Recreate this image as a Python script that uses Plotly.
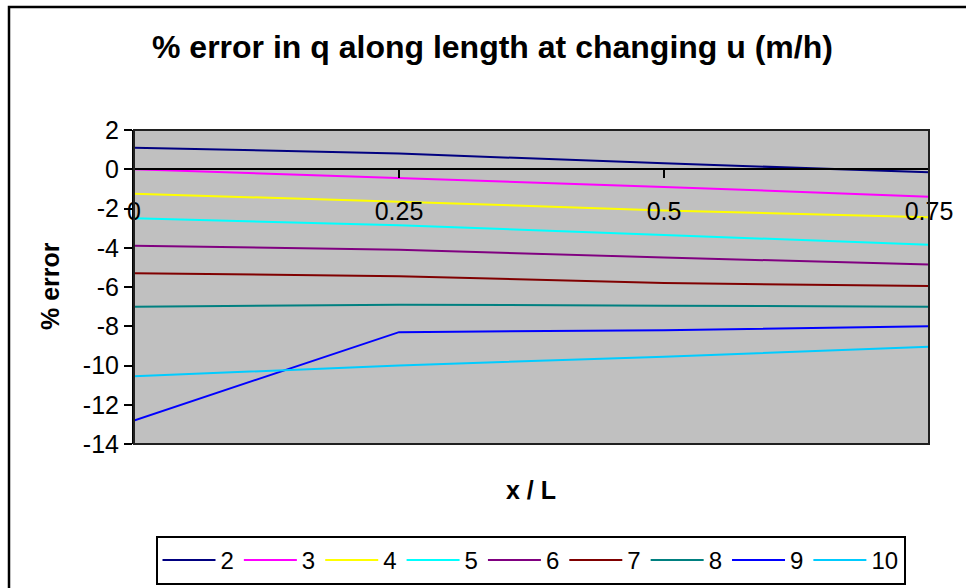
import plotly.graph_objects as go

x_vals = [0, 0.25, 0.5, 0.75]
series_names = ["2", "3", "4", "5", "6", "7", "8", "9", "10"]
s2 = [1.1, 0.8, 0.3, -0.15]
s3 = [0.0, -0.45, -0.9, -1.4]
s4 = [-1.25, -1.65, -2.1, -2.45]
s5 = [-2.5, -2.85, -3.35, -3.85]
s6 = [-3.9, -4.1, -4.5, -4.85]
s7 = [-5.3, -5.45, -5.8, -5.95]
s8 = [-7.0, -6.9, -6.95, -7.0]
s9 = [-12.8, -8.3, -8.2, -8.0]
s10 = [-10.55, -10.0, -9.55, -9.05]
series_values = [s2, s3, s4, s5, s6, s7, s8, s9, s10]
colors = ["#000080", "#FF00FF", "#FFFF00", "#00FFFF", "#800080",
          "#800000", "#008080", "#0000FF", "#00CCFF"]
x_ticks = [0, 0.25, 0.5, 0.75]
x_tick_labels = ["0", "0.25", "0.5", "0.75"]
y_ticks = [2, 0, -2, -4, -6, -8, -10, -12, -14]
y_tick_labels = ["2", "0", "-2", "-4", "-6", "-8", "-10", "-12", "-14"]

FONT = "Liberation Sans, Arial, sans-serif"

fig = go.Figure()
for name, vals, col in zip(series_names, series_values, colors):
    fig.add_trace(go.Scatter(x=x_vals, y=vals, mode="lines", name=name,
                             line=dict(color=col, width=2)))

W, H = 966, 588
L, R, T, B = 134, 37, 130, 144
pw, ph = W - L - R, H - T - B

def px(xp):
    return (xp - L) / pw

def py(yp):
    return (H - B - yp) / ph

zero_pos = (0 - (-14)) / 16.0

fig.update_layout(
    width=W, height=H,
    margin=dict(l=L, r=R, t=T, b=B, autoexpand=False),
    paper_bgcolor="white",
    plot_bgcolor="#C0C0C0",
    font=dict(family=FONT, color="black", size=24),
    showlegend=True,
    legend=dict(orientation="h", x=530.5 / W, xanchor="center", xref="container",
                yref="container", y=1 - 536 / H, yanchor="top",
                bordercolor="black", borderwidth=2, bgcolor="white",
                font=dict(size=24, family=FONT), itemwidth=53, tracegroupgap=0),
    annotations=[
        dict(text="<b>% error in q along length at changing u (m/h)</b>", xref="paper", yref="paper",
             x=px(492), y=py(47), showarrow=False, font=dict(size=32, family=FONT),
             xanchor="center", yanchor="middle"),
        dict(text="<b>x / L</b>", xref="paper", yref="paper",
             x=px(531), y=py(490), showarrow=False, font=dict(size=25, family=FONT),
             xanchor="center", yanchor="middle"),
        dict(text="<b>% error</b>", xref="paper", yref="paper",
             x=px(50), y=py(286), showarrow=False, font=dict(size=25, family=FONT),
             textangle=-90, xanchor="center", yanchor="middle"),
    ],
    shapes=[
        dict(type="rect", xref="paper", yref="paper", x0=px(9), x1=px(975), y0=py(7), y1=py(600),
             line=dict(color="black", width=2.5), fillcolor="rgba(0,0,0,0)", layer="below"),
        dict(type="rect", xref="paper", yref="paper", x0=0, x1=1, y0=0, y1=1,
             line=dict(color="#202020", width=2), fillcolor="rgba(0,0,0,0)", layer="above"),
    ],
)

fig.update_xaxes(range=[0, 0.75], tickvals=x_ticks, ticktext=x_tick_labels,
                 showgrid=False, zeroline=False, showline=True, linecolor="black", linewidth=1.5,
                 ticks="outside", ticklen=8, tickcolor="black", tickwidth=1.5,
                 anchor="free", position=zero_pos, ticklabelstandoff=12,
                 tickfont=dict(size=25, family=FONT))
fig.update_yaxes(range=[-14, 2], tickvals=y_ticks, ticktext=y_tick_labels,
                 showgrid=False, zeroline=False,
                 showline=True, linecolor="black", linewidth=2,
                 ticks="outside", ticklen=8, tickcolor="black", tickwidth=2,
                 tickfont=dict(size=25, family=FONT))

fig.write_html("out.html")
